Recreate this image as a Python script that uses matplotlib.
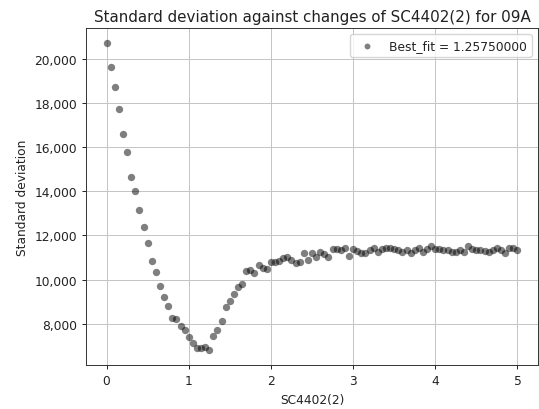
import numpy as np
import matplotlib
matplotlib.use("Agg")
import matplotlib.pyplot as plt
from matplotlib.ticker import FuncFormatter

# parameter values scanned (step 0.05)
sc_values = np.round(np.arange(0, 5.0001, 0.05), 2)

# standard deviation
std_dev = [
    20690, 19600, 18720, 17730, 16570, 15790, 14630, 14000, 13140, 12360,
    11640, 10850, 10340, 9720, 9230, 8790, 8260, 8220, 7900, 7740,
    7390, 7120, 6910, 6900, 6970, 6830, 7460, 7720, 8130, 8770,
    9030, 9330, 9650, 9800, 10370, 10440, 10280, 10640, 10530, 10500,
    10810, 10810, 10840, 10960, 11010, 10900, 10750, 10810, 11190, 10900,
    11190, 11010, 11270, 11140, 11040, 11390, 11390, 11340, 11420, 11080,
    11390, 11300, 11220, 11190, 11340, 11450, 11270, 11370, 11420, 11420,
    11390, 11340, 11270, 11340, 11190, 11340, 11450, 11240, 11390, 11500,
    11390, 11390, 11340, 11340, 11270, 11240, 11340, 11270, 11500, 11390,
    11340, 11340, 11300, 11270, 11340, 11420, 11340, 11190, 11420, 11450,
    11340,
]

best_fit = 1.2575

plt.rcParams['font.size'] = 8.8
plt.rcParams['text.color'] = '#222222'
plt.rcParams['xtick.color'] = '#222222'
plt.rcParams['ytick.color'] = '#222222'
plt.rcParams['axes.labelcolor'] = '#222222'

fig = plt.figure(figsize=(5.39, 4.10), dpi=100)
ax = fig.add_axes([86/539, 44/410, 452/539, 337/410])

ax.scatter(sc_values, std_dev, s=28, color='black', alpha=0.5, linewidths=0,
           label="Best_fit = {:.8f}".format(best_fit))

ax.set_title("Standard deviation against changes of SC4402(2) for 09A", fontsize=10.9, pad=5)
ax.set_xlabel("SC4402(2)")
ax.set_ylabel("Standard deviation")
ax.yaxis.set_major_formatter(FuncFormatter(lambda v, p: "{:,.0f}".format(v)))
ax.grid(True, color='#c4c4c4', linewidth=0.7)
ax.set_axisbelow(True)
for s in ax.spines.values():
    s.set_linewidth(0.7)
    s.set_color('#333333')
ax.tick_params(width=0.7, length=3)
ax.legend(loc='upper right', handletextpad=0.8, markerscale=0.8)

fig.savefig("out.png", dpi=100)
